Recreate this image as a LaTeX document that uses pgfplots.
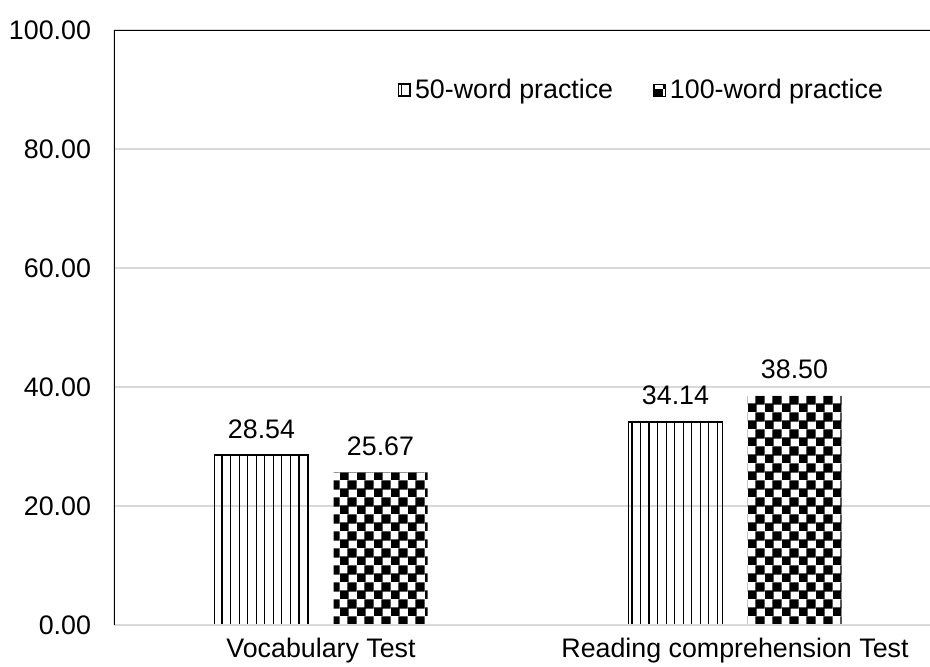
\documentclass[border=0pt]{standalone}
\usepackage{pgfplots}
\pgfplotsset{compat=1.18}
\usepackage{fontspec}
\setmainfont{Liberation Sans}
\usetikzlibrary{patterns,patterns.meta}

\definecolor{gridgray}{HTML}{D9D9D9}

% checkerboard, squares a bit oversized so the corners touch
\pgfdeclarepatternformonly{bigchecker}{\pgfpointorigin}{\pgfpoint{8.5pt}{8.5pt}}{\pgfpoint{8.5pt}{8.5pt}}{
  \pgfpathrectangle{\pgfpoint{-0.3pt}{-0.3pt}}{\pgfpoint{4.85pt}{4.85pt}}
  \pgfpathrectangle{\pgfpoint{3.95pt}{3.95pt}}{\pgfpoint{4.85pt}{4.85pt}}
  \pgfpathrectangle{\pgfpoint{3.95pt}{-0.3pt}}{\pgfpoint{0pt}{0pt}}
  \pgfusepath{fill}
}

\begin{document}
\begin{tikzpicture}[font=\fontsize{13.4}{16}\selectfont]
  \useasboundingbox (-57pt,-20.5pt) rectangle (408pt,312.5pt);
  \begin{axis}[
    at={(0pt,0pt)}, anchor=south west,
    scale only axis,
    width=414pt, height=297.5pt,
    ybar=12.5pt,
    bar width=47pt,
    xmin=-0.5, xmax=1.5,
    ymin=0, ymax=100,
    ytick={0,20,40,60,80,100},
    xtick={0,1},
    xticklabels={Vocabulary Test, Reading comprehension Test},
    major tick length=0pt,
    axis line style={draw=none},
    ymajorgrids,
    grid style={draw=gridgray, line width=0.75pt},
    yticklabel style={
      /pgf/number format/.cd, fixed, fixed zerofill, precision=2,
      assume math mode=true,
      /tikz/.cd, xshift=-8pt},
    xticklabel style={yshift=-3pt},
    nodes near coords,
    nodes near coords style={
      /pgf/number format/.cd, fixed, fixed zerofill, precision=2,
      assume math mode=true,
      /tikz/.cd, anchor=base, yshift=8.5pt},
    legend columns=2,
    legend style={draw=none, fill=none, at={(axis description cs:0.638,0.899)},
      anchor=center, font=\fontsize{13.4}{16}\selectfont,
      /tikz/every even column/.append style={column sep=18pt}},
    legend image code/.code={
      \draw[#1] (0pt,-3pt) rectangle (6pt,3pt);
    },
  ]
    \addplot[draw=black, line width=0.75pt,
      pattern={Lines[angle=90, distance=4.27pt, line width=0.6pt]}]
      coordinates {(0,28.54) (1,34.14)};
    \addlegendentry{50-word practice}
    \addplot[draw=none, pattern=bigchecker]
      coordinates {(0,25.67) (1,38.50)};
    \addlegendentry{100-word practice}
    \draw[gridgray, line width=0.9pt] (rel axis cs:0,0) -- (rel axis cs:1,0);
    \draw[black, line width=1pt] (rel axis cs:0,0) -- (rel axis cs:0,1) -- (rel axis cs:1,1);
  \end{axis}
\end{tikzpicture}
\end{document}
